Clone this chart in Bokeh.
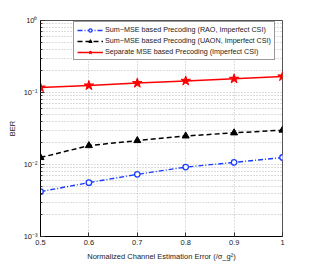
from bokeh.plotting import figure
from bokeh.models import FixedTicker, Legend, LegendItem, Range1d
from bokeh.embed import file_html
from bokeh.resources import INLINE

# ---- data ----
error = [0.5, 0.6, 0.7, 0.8, 0.9, 1.0]
ber_rao = [0.0042, 0.0056, 0.0073, 0.0092, 0.0107, 0.0125]
ber_uaon = [0.0125, 0.0183, 0.0215, 0.0249, 0.0275, 0.0300]
ber_sep = [0.117, 0.125, 0.135, 0.145, 0.155, 0.167]
labels = [
    "Sum\u2212MSE based Precoding (RAO, Imperfect CSI)",
    "Sum\u2212MSE based Precoding (UAON, Imperfect CSI)",
    "Separate MSE based Precoding (Imperfect CSI)",
]
x_ticks = [0.5, 0.6, 0.7, 0.8, 0.9, 1.0]
x_tick_labels = ["0.5", "0.6", "0.7", "0.8", "0.9", "1"]
y_ticks = [0.001, 0.01, 0.1, 1.0]
y_tick_labels = ["10\u207b\u00b3", "10\u207b\u00b2", "10\u207b\u00b9", "10\u2070"]
x_label = "Normalized Channel Estimation Error (/\u03c3_g\u00b2)"
y_label = "BER"

FONT = "Liberation Sans"
y_minor = [m * d for d in [0.001, 0.01, 0.1] for m in range(2, 10)]

p = figure(width=312, height=266, y_axis_type="log",
           x_range=Range1d(0.5, 1.0), y_range=Range1d(0.001, 1.0),
           output_backend="svg", toolbar_location=None,
           min_border_left=40, min_border_right=30, min_border_top=20, min_border_bottom=30)
p.background_fill_color = "white"
p.border_fill_color = "white"
p.outline_line_color = "#555555"
p.outline_line_width = 1

xt = FixedTicker(ticks=x_ticks)
yt = FixedTicker(ticks=y_ticks, minor_ticks=y_minor)

for ax in p.xaxis:
    ax.ticker = xt
    ax.major_label_overrides = {t: l for t, l in zip(x_ticks, x_tick_labels)}
    ax.axis_label = x_label
for ax in p.yaxis:
    ax.ticker = yt
    ax.major_label_overrides = {t: l for t, l in zip(y_ticks, y_tick_labels)}
    ax.axis_label = y_label

for ax in list(p.xaxis) + list(p.yaxis):
    ax.axis_line_color = "black"
    ax.major_tick_in = 4
    ax.major_tick_out = 0
    ax.minor_tick_in = 2
    ax.minor_tick_out = 0
    ax.major_tick_line_color = "#333333"
    ax.minor_tick_line_color = "#333333"
    ax.major_label_text_font = FONT
    ax.major_label_text_font_size = "7.5px"
    ax.major_label_text_color = "#222222"
    ax.major_label_standoff = 3
    ax.axis_label_text_font = FONT
    ax.axis_label_text_font_size = "7.5px"
    ax.axis_label_text_font_style = "normal"
    ax.axis_label_text_color = "#222222"
    ax.axis_label_standoff = 4

# grid
p.xgrid.ticker = xt
p.ygrid.ticker = yt
for g in [p.xgrid, p.ygrid]:
    g.grid_line_color = "#bbbbbb"
    g.grid_line_dash = "1 2"
    g.grid_line_width = 1
p.ygrid.minor_grid_line_color = "#bbbbbb"
p.ygrid.minor_grid_line_dash = "1 2"

# series
l1 = p.line(error, ber_rao, line_color="#1a3cff", line_width=1.4, line_dash="5 2 1 2")
m1 = p.scatter(error, ber_rao, marker="circle", size=5.5, line_color="#1a3cff",
               fill_color="white", line_width=1.3)
l2 = p.line(error, ber_uaon, line_color="black", line_width=1.5, line_dash="5 3")
m2 = p.scatter(error, ber_uaon, marker="triangle", size=7, line_color="black",
               fill_color="black")
l3 = p.line(error, ber_sep, line_color="#ff0000", line_width=1.5)
m3 = p.scatter(error, ber_sep, marker="star", size=10, line_color="#ff0000",
               fill_color="#ff0000")

legend = Legend(items=[
    LegendItem(label=labels[0], renderers=[l1, m1]),
    LegendItem(label=labels[1], renderers=[l2, m2]),
    LegendItem(label=labels[2], renderers=[l3, m3]),
], location=(33, 176))
legend.label_text_font = FONT
legend.label_text_font_size = "7.2px"
legend.label_text_color = "#222222"
legend.glyph_width = 26
legend.glyph_height = 8
legend.label_height = 8
legend.label_standoff = 2
legend.spacing = 2
legend.padding = 3
legend.margin = 0
legend.border_line_color = "#333333"
legend.border_line_width = 1
legend.background_fill_color = "white"
legend.background_fill_alpha = 1.0
p.add_layout(legend, "center")

open("out.html", "w").write(file_html(p, INLINE))
